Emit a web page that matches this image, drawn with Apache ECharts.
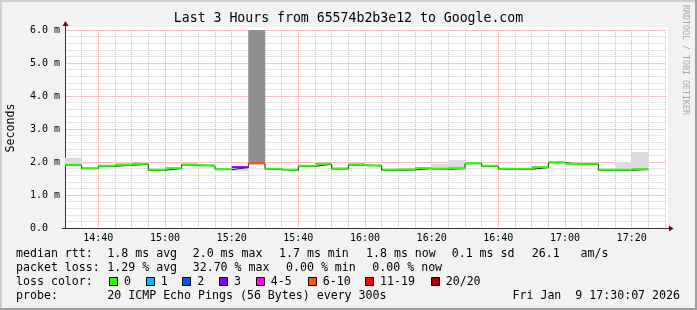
<!DOCTYPE html>
<html><head><meta charset="utf-8">
<script src="https://cdn.jsdelivr.net/npm/echarts@6/dist/echarts.min.js"></script>
<style>html,body{margin:0;padding:0;background:#f2f2f2}#c{width:697px;height:310px}</style>
</head><body><div id="c"></div>
<script>
// ---- data (5-minute bins, start time of each bin) ----
const binTimes = ['14:30','14:35','14:40','14:45','14:50','14:55','15:00','15:05','15:10','15:15',
  '15:20','15:25','15:30','15:35','15:40','15:45','15:50','15:55','16:00','16:05',
  '16:10','16:15','16:20','16:25','16:30','16:35','16:40','16:45','16:50','16:55',
  '17:00','17:05','17:10','17:15','17:20'];
// median RTT (ms)
const medianMs = [1.90,1.80,1.87,1.90,1.93,1.75,1.80,1.91,1.88,1.77,
  1.83,1.95,1.78,1.75,1.87,1.93,1.79,1.91,1.88,1.75,
  1.76,1.80,1.78,1.80,1.95,1.87,1.78,1.78,1.83,1.98,
  1.93,1.93,1.75,1.75,1.77];
// packet loss (%)
const lossPct = [0,0,0,0,0,0,0,0,0,0,
  12.5,32.7,0,0,0,0,0,0,0,0,
  0,0,0,0,0,0,0,0,0,0,
  0,0,0,0,0];
// smoke (ping spread) low / high (ms)
const smokeLo = [1.88,1.78,1.83,1.89,1.91,1.73,1.78,1.89,1.86,1.75,
  1.72,1.93,1.76,1.73,1.83,1.91,1.77,1.89,1.86,1.73,
  1.74,1.78,1.76,1.78,1.93,1.85,1.76,1.76,1.81,1.93,
  1.91,1.91,1.73,1.73,1.75];
const smokeHi = [2.13,1.82,1.88,1.97,1.95,1.77,1.82,1.93,1.94,1.82,
  1.84,6.00,1.82,1.77,1.88,1.95,1.81,1.97,1.93,1.77,
  1.80,1.85,1.95,2.06,1.97,1.89,1.82,1.80,1.85,2.00,
  1.95,1.95,1.77,2.00,2.30];
const lossLabels = ['0','1','2','3','4-5','6-10','11-19','20/20'];
const lossUpper = [0,1,2,3,5,10,19,20]; // pings lost out of 20
const yTickLabels = ['0.0','1.0 m','2.0 m','3.0 m','4.0 m','5.0 m','6.0 m'];
const stepMin = 5, pings = 20;

// ---- styles ----
const lossColors = ['#26ff00','#00b8ff','#0059ff','#7e00ff','#ff00ff','#ff5500','#ff0000','#a10000'];
const MONO = '"DejaVu Sans Mono", monospace';
const minorGrid = '#c4c4c4', majorGrid = '#f2a0a0';
const minorGridH = '#e6e6e6', majorGridH = '#f6c4c4';

function toMin(t){ const p = t.split(':'); return (+p[0]-14)*60 + (+p[1]); }
function lossIndex(pct){
  const n = pct/100*pings;
  for (let i=0;i<lossUpper.length;i++) if (n <= lossUpper[i]) return i;
  return lossUpper.length-1;
}

const chart = echarts.init(document.getElementById('c'), null, {renderer:'canvas'});

const smokeData = binTimes.map((t,i)=>[toMin(t), toMin(t)+stepMin, smokeLo[i], smokeHi[i]]);
const medData = binTimes.map((t,i)=>[toMin(t), toMin(t)+stepMin, medianMs[i], lossPct[i]]);
const stepData = binTimes.map((t,i)=>[toMin(t), medianMs[i]]);
stepData.push([toMin(binTimes[binTimes.length-1])+stepMin, medianMs[medianMs.length-1]]);

// legend graphics
const g = [];
const txt = (x,y,s,extra)=>Object.assign({type:'text', x, y, silent:true,
  style:Object.assign({text:s, font:'11.6px '+MONO, fill:'#000', verticalAlign:'middle'}, extra||{})});
// plot canvas (behind everything)
g.push({type:'rect', shape:{x:65,y:27,width:603,height:201}, style:{fill:'#ffffff'}, silent:true, z:-10});
// frame
g.push({type:'rect', shape:{x:0,y:0,width:697,height:2}, style:{fill:'#cfcfcf'}, silent:true});
g.push({type:'rect', shape:{x:0,y:0,width:2,height:310}, style:{fill:'#cfcfcf'}, silent:true});
g.push({type:'rect', shape:{x:0,y:308,width:697,height:2}, style:{fill:'#9e9e9e'}, silent:true});
g.push({type:'rect', shape:{x:695,y:0,width:2,height:310}, style:{fill:'#9e9e9e'}, silent:true});
// axis extensions + arrows
g.push({type:'line', shape:{x1:65.5,y1:25,x2:65.5,y2:30}, style:{stroke:'#333',lineWidth:1}, silent:true, z:10});
g.push({type:'line', shape:{x1:62,y1:228.5,x2:65,y2:228.5}, style:{stroke:'#333',lineWidth:1}, silent:true, z:10});
g.push({type:'line', shape:{x1:665,y1:228.5,x2:669,y2:228.5}, style:{stroke:'#333',lineWidth:1}, silent:true, z:10});
g.push({type:'polygon', shape:{points:[[62.5,26],[68.5,26],[65.5,21]]}, style:{fill:'#7f0000'}, silent:true, z:10});
g.push({type:'polygon', shape:{points:[[669,225.5],[669,231.5],[673.5,228.5]]}, style:{fill:'#7f0000'}, silent:true, z:10});
// y axis name & watermark
g.push(txt(10.5,128,'Seconds',{align:'center'}));
g[g.length-1].rotation = Math.PI/2;
g.push({type:'text', x:685, y:60, rotation:-Math.PI/2, silent:true,
  style:{text:'RRDTOOL / TOBI OETIKER', font:'8.3px '+MONO, fill:'#a8a8a8', align:'center', verticalAlign:'middle'}});
// legend rows
[[16,'median rtt:'],[107.3,'1.8 ms avg'],[192.7,'2.0 ms max'],[279,'1.7 ms min'],
 [366,'1.8 ms now'],[451.7,'0.1 ms sd'],[531.7,'26.1   am/s']].forEach(a=>g.push(txt(a[0],254.3,a[1])));
[[16,'packet loss:'],[107.3,'1.29 % avg'],[192.7,'32.70 % max'],[286,'0.00 % min'],
 [372.3,'0.00 % now']].forEach(a=>g.push(txt(a[0],268.3,a[1])));
g.push(txt(16,282.3,'loss color:'));
const boxX = [109,145.7,182.3,219,255.7,307.7,365,430.7];
lossLabels.forEach((l,i)=>{
  const bx = Math.round(boxX[i]) + 0.5;
  g.push({type:'rect', shape:{x:bx,y:277.5,width:8,height:8}, style:{fill:lossColors[i], stroke:'#000', lineWidth:1}, silent:true});
  g.push(txt(boxX[i]+15,282.3,l));
});
g.push(txt(16,296.3,'probe:'));
g.push(txt(107.3,296.3,'20 ICMP Echo Pings (56 Bytes) every 300s'));
g.push(txt(680,296.3,'Fri Jan  9 17:30:07 2026',{align:'right'}));

const option = {
  animation:false,
  backgroundColor:'#f2f2f2',
  title:{text:'Last 3 Hours from 65574b2b3e12 to Google.com', left:'center', top:12, padding:0,
    textStyle:{fontFamily:MONO, fontSize:13.2, fontWeight:'normal', color:'#000'}},
  grid:{left:65, top:30, width:600, height:198, show:false},
  xAxis:{type:'value', min:30, max:210, interval:5,
    axisLine:{show:true, lineStyle:{color:'#333', width:1}},
    axisTick:{show:false},
    axisLabel:{margin:5, fontFamily:MONO, fontSize:10, color:'#000',
      formatter:v=>{ if (v%20!==0) return ''; const h=14+Math.floor(v/60), m=v%60; return h+':'+(m<10?'0':'')+m; }},
    splitLine:{show:true, lineStyle:{color:[minorGrid,minorGrid,majorGrid,minorGrid], width:1, type:[1,1]}}
  },
  yAxis:{type:'value', min:0, max:6, interval:1,
    axisLine:{show:true, lineStyle:{color:'#333', width:1}},
    axisTick:{show:false},
    minorTick:{show:false, splitNumber:5},
    minorSplitLine:{show:true, lineStyle:{color:minorGridH, width:1, type:'solid'}},
    axisLabel:{margin:5, fontFamily:MONO, fontSize:10, color:'#000',
      formatter:v=>{ const r=Math.round(v); return r===0 ? yTickLabels[0]+'  ' : yTickLabels[r]; }},
    splitLine:{show:true, lineStyle:{color:majorGridH, width:1, type:'solid'}}
  },
  graphic:g,
  series:[
    {type:'custom', name:'smoke', silent:true, z:2, clip:true,
      encode:{x:[0,1], y:[2,3]},
      renderItem:(params, api)=>{
        const t0=api.value(0), t1=api.value(1), lo=api.value(2), hi=api.value(3);
        const a=api.coord([t0,hi]), b=api.coord([t1,lo]);
        return {type:'rect', shape:{x:a[0], y:a[1], width:b[0]-a[0], height:b[1]-a[1]},
          style:{fill: (hi-lo)>1 ? '#8f8f8f' : '#dcdcdc'}};
      },
      data:smokeData},
    {type:'line', name:'median', step:'end', symbol:'none', silent:true, z:3,
      lineStyle:{color:'#222', width:1}, data:stepData},
    {type:'custom', name:'loss', silent:true, z:4,
      encode:{x:[0,1], y:2},
      renderItem:(params, api)=>{
        const t0=api.value(0), t1=api.value(1), m=api.value(2), lp=api.value(3);
        const a=api.coord([t0,m]), b=api.coord([t1,m]);
        return {type:'line', shape:{x1:a[0], y1:a[1]-0.5, x2:b[0], y2:b[1]-0.5},
          style:{stroke:lossColors[lossIndex(lp)], lineWidth:2}};
      },
      data:medData}
  ]
};
chart.setOption(option);
</script></body></html>
